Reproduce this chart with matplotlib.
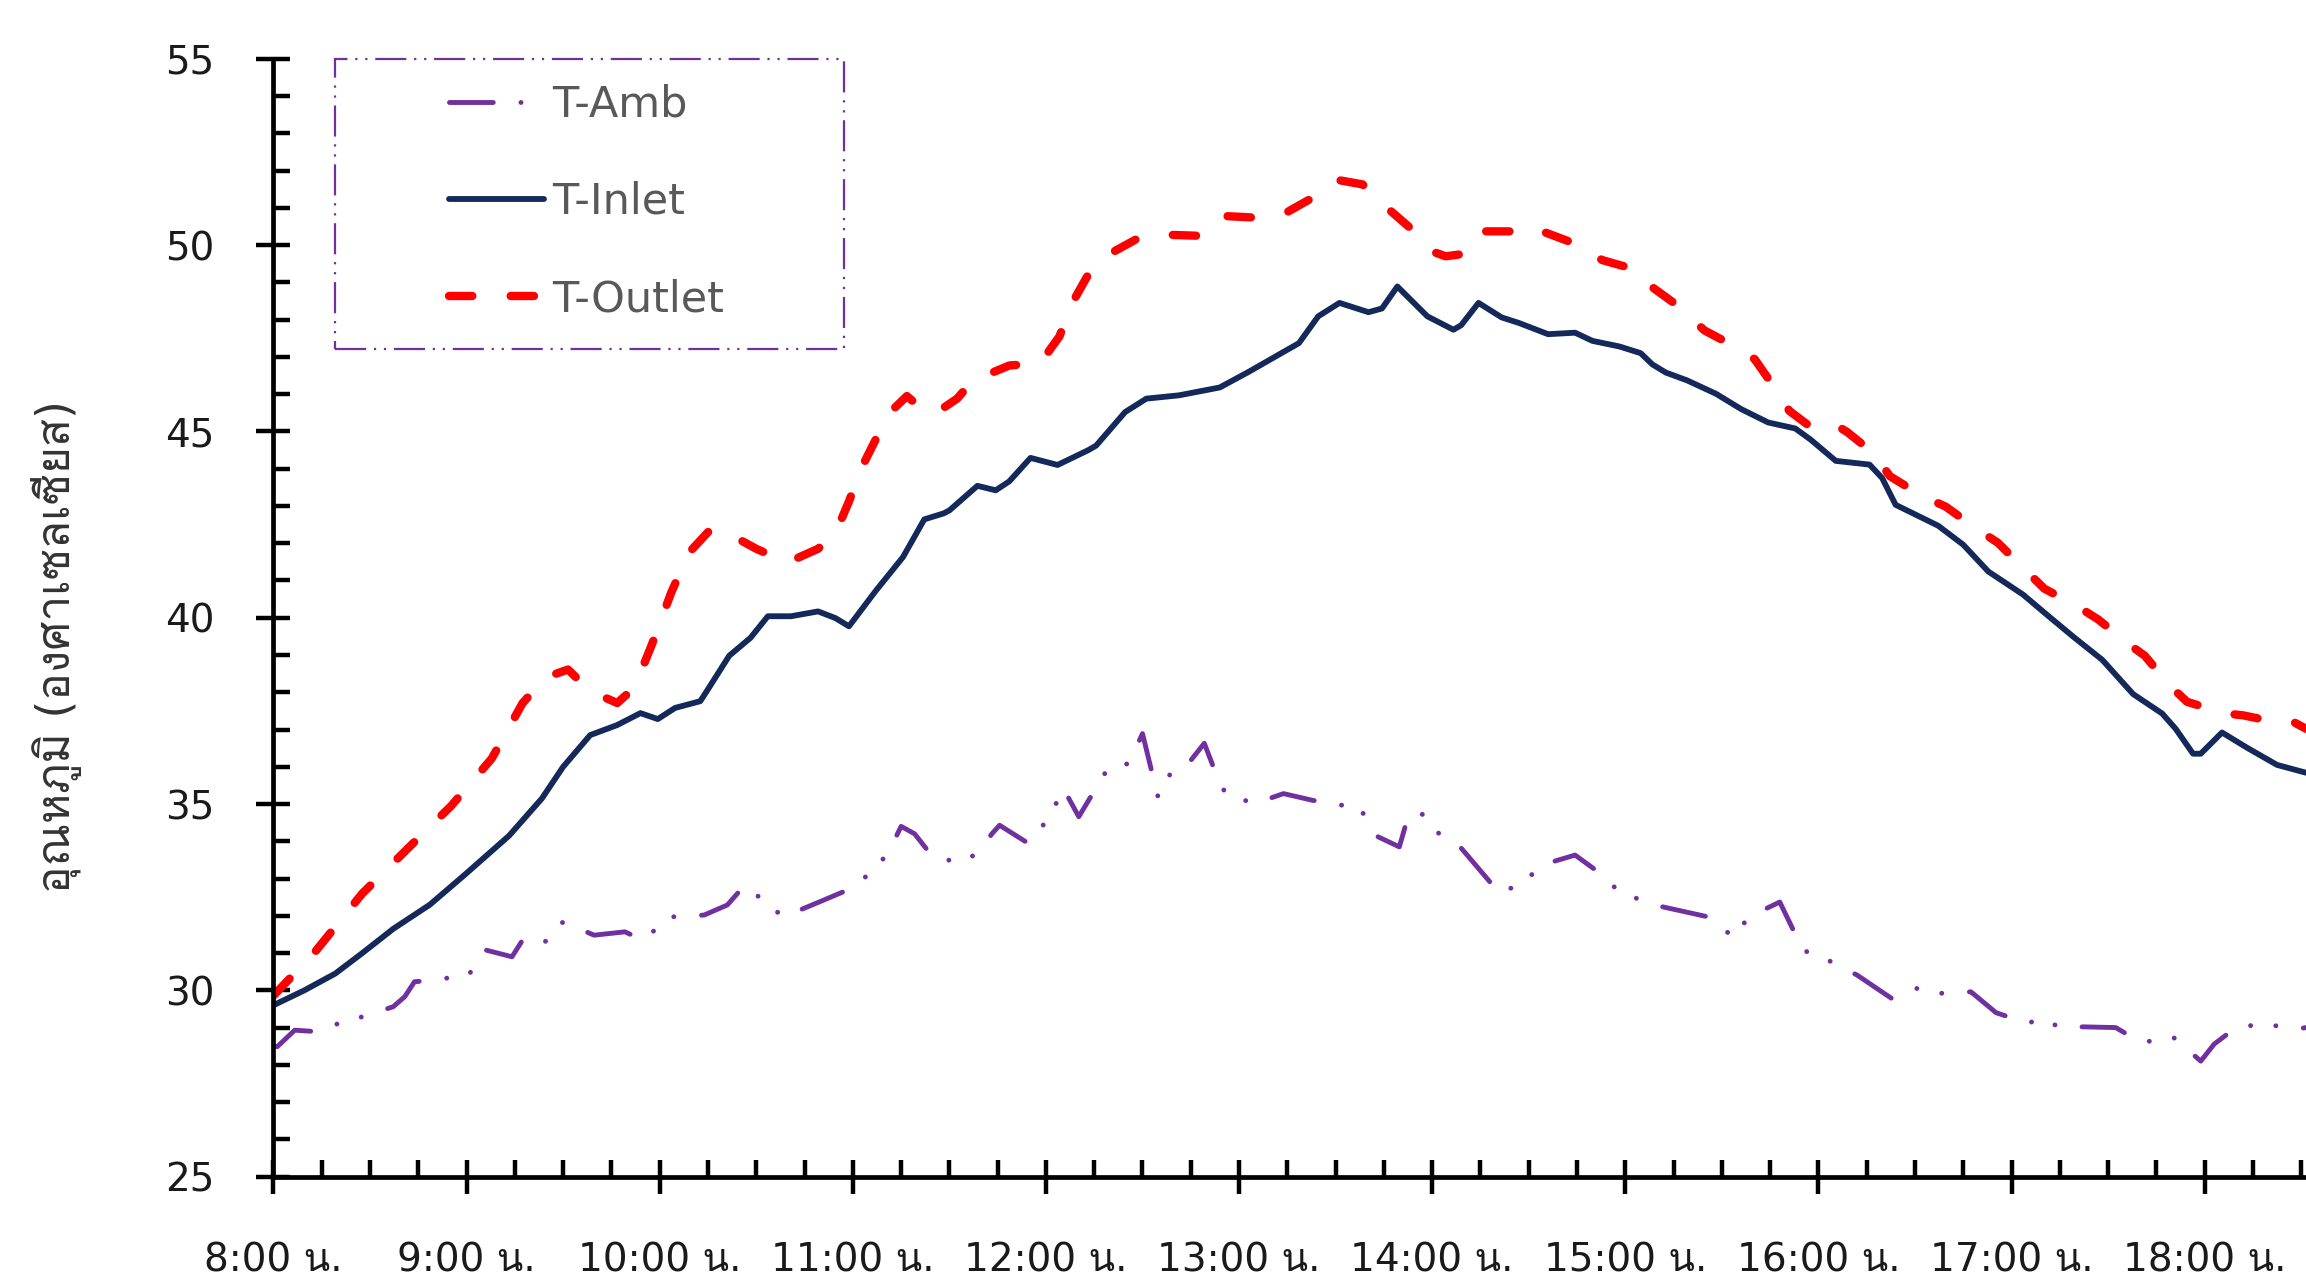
import numpy as np
import matplotlib
matplotlib.use("Agg")
import matplotlib.pyplot as plt
from matplotlib import font_manager
from matplotlib.ft2font import FT2Font
from matplotlib.ticker import MultipleLocator
from matplotlib.patches import Rectangle

# Data (time in hours, temperature in deg C)
t_amb = [8.00, 8.02, 8.11, 8.23, 8.36, 8.46, 8.62, 8.68, 8.73, 8.82, 9.01, 9.10,
         9.235, 9.29, 9.39, 9.50, 9.66, 9.82, 9.91, 10.06, 10.23, 10.35, 10.44,
         10.64, 10.83, 10.99, 11.12, 11.19, 11.25, 11.32, 11.42, 11.57, 11.65,
         11.72, 11.76, 11.91, 12.02, 12.09, 12.17, 12.32, 12.43, 12.50, 12.54,
         12.58, 12.65, 12.73, 12.82, 12.88, 12.93, 13.08, 13.23, 13.38, 13.53,
         13.62, 13.72, 13.83, 13.875, 13.94, 14.005, 14.13, 14.24, 14.35, 14.48,
         14.565, 14.74, 14.87, 14.97, 15.15, 15.43, 15.56, 15.64, 15.80, 15.92,
         16.05, 16.20, 16.38, 16.51, 16.64, 16.79, 16.92, 17.08, 17.17, 17.25,
         17.37, 17.54, 17.67, 17.84, 17.98, 18.05, 18.17, 18.32, 18.49, 18.525]
amb = [28.5, 28.49, 28.93, 28.89, 29.16, 29.29, 29.56, 29.83, 30.23, 30.27, 30.41, 31.08,
       30.90, 31.35, 31.21, 31.84, 31.48, 31.57, 31.35, 31.97, 32.02, 32.29, 32.82,
       31.97, 32.38, 32.73, 33.27, 33.76, 34.4, 34.2, 33.54, 33.45, 33.7,
       34.2, 34.43, 33.94, 34.66, 35.42, 34.66, 35.95, 36.09, 36.89, 36.04,
       35.20, 35.87, 36.04, 36.63, 35.82, 35.28, 35.01, 35.28, 35.10, 34.97,
       34.93, 34.12, 33.85, 34.66, 34.79, 34.30, 33.94, 33.27, 32.60, 32.92,
       33.36, 33.63, 33.14, 32.64, 32.29, 31.97, 31.43, 31.97, 32.37, 31.08,
       30.81, 30.41, 29.78, 30.05, 29.92, 29.96, 29.40, 29.12, 29.23, 29.0,
       29.02, 29.0, 28.6, 28.73, 28.1, 28.56, 29.03, 29.08, 28.97, 29.0]

t_inlet = [8.00, 8.16, 8.32, 8.46, 8.62, 8.81, 8.99, 9.22, 9.39, 9.50, 9.64, 9.78,
           9.90, 9.99, 10.08, 10.21, 10.24, 10.36, 10.47, 10.56, 10.68, 10.82, 10.91,
           10.98, 11.12, 11.26, 11.37, 11.47, 11.50, 11.645, 11.74, 11.81, 11.92,
           12.06, 12.22, 12.26, 12.41, 12.52, 12.69, 12.90, 13.05, 13.31, 13.41,
           13.52, 13.67, 13.74, 13.82, 13.975, 14.11, 14.15, 14.24, 14.36, 14.45,
           14.60, 14.74, 14.83, 14.97, 15.08, 15.14, 15.21, 15.32, 15.47, 15.60,
           15.74, 15.88, 15.96, 16.09, 16.265, 16.33, 16.40, 16.62, 16.75, 16.88,
           17.06, 17.19, 17.32, 17.47, 17.63, 17.78, 17.85, 17.94, 17.98, 18.09,
           18.22, 18.375, 18.525]
inlet = [29.6, 30.0, 30.45, 31.0, 31.65, 32.3, 33.1, 34.15, 35.15, 36.0, 36.85, 37.12,
         37.44, 37.28, 37.58, 37.76, 38.0, 38.98, 39.46, 40.04, 40.04, 40.17, 39.99,
         39.77, 40.73, 41.63, 42.64, 42.80, 42.88, 43.54, 43.42, 43.66, 44.29,
         44.10, 44.50, 44.62, 45.52, 45.88, 45.97, 46.18, 46.60, 47.37, 48.09,
         48.45, 48.20, 48.30, 48.89, 48.09, 47.73, 47.85, 48.45, 48.06, 47.91,
         47.61, 47.65, 47.43, 47.28, 47.1, 46.8, 46.58, 46.37, 46.01, 45.60,
         45.24, 45.08, 44.78, 44.21, 44.11, 43.75, 43.03, 42.47, 41.96, 41.24,
         40.62, 40.05, 39.49, 38.87, 37.95, 37.43, 37.02, 36.35, 36.35, 36.92,
         36.51, 36.05, 35.84]

t_outlet = [8.00, 8.21, 8.46, 8.69, 8.92, 9.13, 9.29, 9.41, 9.525, 9.64, 9.78, 9.87,
            9.96, 10.06, 10.15, 10.265, 10.33, 10.50, 10.66, 10.82, 10.91, 10.98,
            11.04, 11.12, 11.20, 11.28, 11.38, 11.46, 11.54, 11.62, 11.81, 11.97,
            12.07, 12.13, 12.22, 12.31, 12.50, 12.62, 12.80, 12.93, 13.12, 13.24,
            13.38, 13.51, 13.64, 13.76, 13.88, 14.00, 14.07, 14.17, 14.26, 14.43,
            14.52, 14.57, 14.76, 14.88, 15.05, 15.14, 15.27, 15.41, 15.56, 15.67,
            15.76, 15.85, 15.955, 16.07, 16.15, 16.285, 16.37, 16.53, 16.66, 16.81,
            16.93, 17.06, 17.17, 17.34, 17.45, 17.61, 17.69, 17.825, 17.91, 18.11,
            18.20, 18.34, 18.45, 18.525]
outlet = [29.86, 31.0, 32.6, 33.78, 34.95, 36.22, 37.71, 38.40, 38.61, 38.03, 37.71, 38.13,
          39.29, 40.68, 41.74, 42.38, 42.33, 41.85, 41.48, 41.85, 42.27, 43.12,
          43.97, 44.8, 45.55, 45.95, 45.5, 45.6, 45.88, 46.36, 46.77, 46.83,
          47.55, 48.39, 49.22, 49.71, 50.25, 50.28, 50.25, 50.78, 50.73, 50.86,
          51.27, 51.75, 51.63, 51.03, 50.49, 49.83, 49.7, 49.77, 50.37, 50.37,
          50.25, 50.37, 50.0, 49.6, 49.35, 48.87, 48.38, 47.71, 47.30, 46.94,
          46.27, 45.55, 45.14, 45.24, 44.98, 44.42, 43.80, 43.29, 42.98, 42.42,
          42.01, 41.34, 40.78, 40.31, 39.95, 39.28, 38.98, 38.15, 37.74, 37.43,
          37.38, 37.23, 37.23, 37.02]

hours = list(range(8, 19))
hour_labels = [f"{h}:00 น." for h in hours]
y_label = "อุณหภูมิ (องศาเซลเซียส)"


# look for a font that has Thai glyphs, use it as fallback
def find_thai_font():
    for f in font_manager.fontManager.ttflist:
        try:
            if 0x0E19 in FT2Font(f.fname).get_charmap():
                return f.name
        except Exception:
            pass
    return None


thai = find_thai_font()
families = ['DejaVu Sans'] + ([thai] if thai else [])
plt.rcParams['font.family'] = families

fig = plt.figure(figsize=(23.06, 12.82), dpi=100)
ax = fig.add_axes([0.1186, 0.0822, 0.8814, 0.8719])

ax.plot(t_amb, amb, color='#7030A0', lw=3.5,
        linestyle=(0, (9, 5.7, 0.01, 5.2, 0.01, 5.7)), dash_capstyle='round',
        dash_joinstyle='round', label='T-Amb')
ax.plot(t_inlet, inlet, color='#14285A', lw=4.2, solid_joinstyle='round',
        solid_capstyle='round', label='T-Inlet')
ax.plot(t_outlet, outlet, color='#FF0000', lw=6.0,
        linestyle=(0, (2.8, 4.6)), dash_capstyle='round', dash_joinstyle='round',
        label='T-Outlet')

ax.set_xlim(8, 18.525)
ax.set_ylim(25, 55)
ax.set_xticks(hours)
ax.set_xticklabels(hour_labels)
ax.xaxis.set_minor_locator(MultipleLocator(0.25))
ax.yaxis.set_major_locator(MultipleLocator(5))
ax.yaxis.set_minor_locator(MultipleLocator(1))

ax.tick_params(which='major', direction='inout', length=25, width=3.2, color='black')
ax.tick_params(which='minor', direction='in', length=12, width=3.2, color='black')
ax.tick_params(axis='x', which='major', labelsize=28, pad=34, labelcolor='#1a1a1a')
ax.tick_params(axis='y', which='major', labelsize=28, pad=30, labelcolor='#1a1a1a')

for s in ['top', 'right']:
    ax.spines[s].set_visible(False)
for s in ['left', 'bottom']:
    ax.spines[s].set_linewidth(3.4)

ax.set_ylabel(y_label, fontsize=33, color='#333333', va='center')
ax.yaxis.set_label_coords(-0.107, 0.474)

leg = ax.legend(loc='upper left', bbox_to_anchor=(0.1947, 0.9346),
                bbox_transform=fig.transFigure, frameon=False, fontsize=31,
                handlelength=2.2, handletextpad=0.19, labelspacing=1.28,
                borderpad=0, borderaxespad=0)
for txt in leg.get_texts():
    txt.set_color('#595959')

frame = Rectangle((0.1453, 0.7278), 0.2207, 0.2262, transform=fig.transFigure,
                  fill=False, edgecolor='#7030A0', lw=1.6,
                  linestyle=(0, (14, 3.5, 1, 3.5, 1, 3.5)))
fig.add_artist(frame)

fig.savefig('out.png', dpi=100)
